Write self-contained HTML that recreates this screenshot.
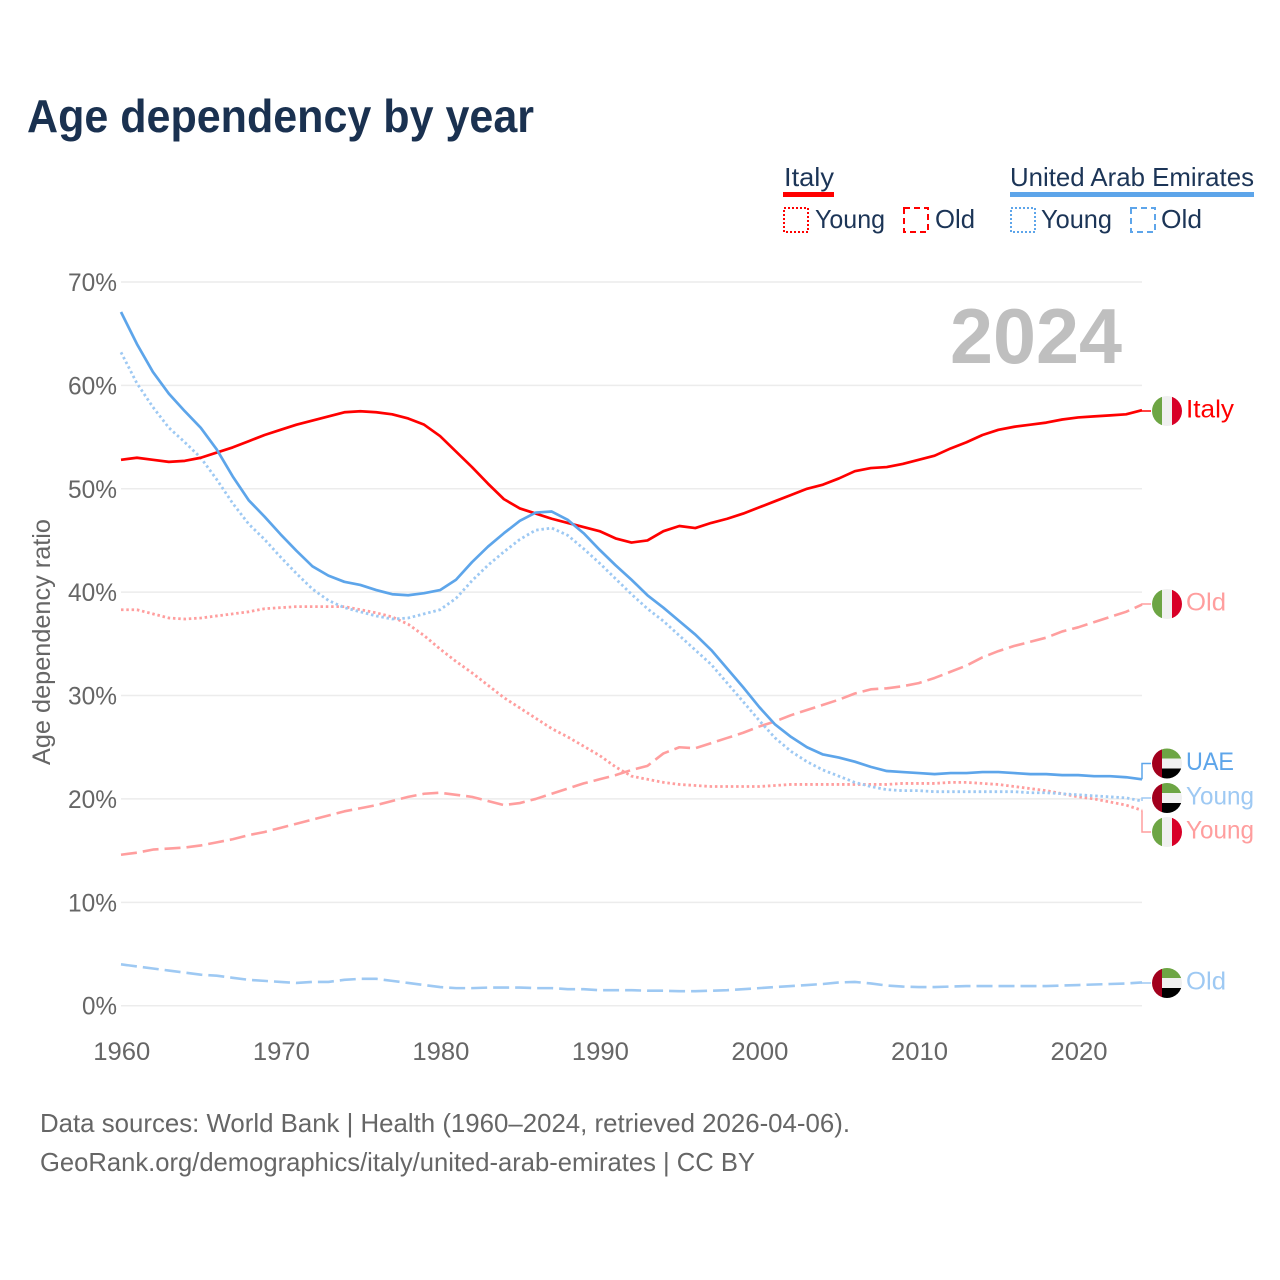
<!DOCTYPE html>
<html lang="en">
<head>
<meta charset="utf-8">
<title>Age dependency by year</title>
<style>
html,body{margin:0;padding:0;background:#fff;}
svg{display:block;font-family:"Liberation Sans",sans-serif;}
</style>
</head>
<body>
<svg id="chart" xmlns="http://www.w3.org/2000/svg" width="1280" height="1280" viewBox="0 0 1280 1280">
  <rect x="0" y="0" width="1280" height="1280" fill="#fff"/>
  <text x="27" y="132" font-size="46" font-weight="700" fill="#1a3150" textLength="507" lengthAdjust="spacingAndGlyphs">Age dependency by year</text>

  <g font-size="26" fill="#1c3557">
    <text x="784" y="186" textLength="50" lengthAdjust="spacingAndGlyphs">Italy</text>
    <rect x="783" y="192" width="51" height="5" fill="#ff0000"/>
    <rect x="784" y="208" width="24" height="24" fill="none" stroke="#ff0000" stroke-width="2" stroke-dasharray="2 2"/>
    <text x="815" y="228" textLength="70" lengthAdjust="spacingAndGlyphs">Young</text>
    <rect x="904" y="208" width="24" height="24" fill="none" stroke="#ff0000" stroke-width="2" stroke-dasharray="6 4"/>
    <text x="935" y="228" textLength="40" lengthAdjust="spacingAndGlyphs">Old</text>
    <text x="1010" y="186" textLength="244" lengthAdjust="spacingAndGlyphs">United Arab Emirates</text>
    <rect x="1010" y="192" width="244" height="5" fill="#5da5ea"/>
    <rect x="1011" y="208" width="24" height="24" fill="none" stroke="#5da5ea" stroke-width="2" stroke-dasharray="2 2"/>
    <text x="1041" y="228" textLength="71" lengthAdjust="spacingAndGlyphs">Young</text>
    <rect x="1131" y="208" width="24" height="24" fill="none" stroke="#5da5ea" stroke-width="2" stroke-dasharray="6 4"/>
    <text x="1161" y="228" textLength="41" lengthAdjust="spacingAndGlyphs">Old</text>
  </g>

  <g id="grid"></g>
  <text x="1122" y="363" text-anchor="end" font-size="78" font-weight="700" fill="#bfbfbf" textLength="172" lengthAdjust="spacingAndGlyphs">2024</text>
  <g id="yticks"></g>
  <g id="xticks"></g>
  <text transform="translate(50,642) rotate(-90)" text-anchor="middle" font-size="25" fill="#666" textLength="246" lengthAdjust="spacingAndGlyphs">Age dependency ratio</text>
  <g id="series"></g>
  <g id="labels"></g>

  <g font-size="26" fill="#666">
    <text x="40" y="1132" textLength="810" lengthAdjust="spacingAndGlyphs">Data sources: World Bank | Health (1960–2024, retrieved 2026-04-06).</text>
    <text x="40" y="1171" textLength="715" lengthAdjust="spacingAndGlyphs">GeoRank.org/demographics/italy/united-arab-emirates | CC BY</text>
  </g>
</svg>
<script>
const startYear = 1960;
const endYear = 2024;
const yTickValues = [0, 10, 20, 30, 40, 50, 60, 70];
const xTickValues = [1960, 1970, 1980, 1990, 2000, 2010, 2020];

const italyTotal = [52.8,53.0,52.8,52.6,52.7,53.0,53.5,54.0,54.6,55.2,55.7,56.2,56.6,57.0,57.4,57.5,57.4,57.2,56.8,56.2,55.1,53.6,52.1,50.5,49.0,48.1,47.6,47.1,46.7,46.3,45.9,45.2,44.8,45.0,45.9,46.4,46.2,46.7,47.1,47.6,48.2,48.8,49.4,50.0,50.4,51.0,51.7,52.0,52.1,52.4,52.8,53.2,53.9,54.5,55.2,55.7,56.0,56.2,56.4,56.7,56.9,57.0,57.1,57.2,57.6];
const italyYoung = [38.3,38.3,37.9,37.5,37.4,37.5,37.7,37.9,38.1,38.4,38.5,38.6,38.6,38.6,38.6,38.3,38.0,37.6,36.9,35.8,34.5,33.3,32.2,31.0,29.8,28.8,27.8,26.8,26.0,25.1,24.2,23.1,22.2,21.9,21.6,21.4,21.3,21.2,21.2,21.2,21.2,21.3,21.4,21.4,21.4,21.4,21.4,21.4,21.4,21.5,21.5,21.5,21.6,21.6,21.5,21.4,21.2,21.0,20.8,20.5,20.2,20.0,19.7,19.4,18.9];
const italyOld = [14.6,14.8,15.1,15.2,15.3,15.5,15.8,16.1,16.5,16.8,17.2,17.6,18.0,18.4,18.8,19.1,19.4,19.8,20.2,20.5,20.6,20.4,20.2,19.8,19.4,19.6,20.0,20.5,21.0,21.5,21.9,22.3,22.8,23.2,24.4,25.0,24.9,25.4,25.9,26.4,27.0,27.5,28.1,28.6,29.1,29.6,30.2,30.6,30.7,30.9,31.2,31.7,32.3,32.9,33.7,34.3,34.8,35.2,35.6,36.2,36.6,37.1,37.6,38.1,38.8];
const uaeTotal = [67.1,64.0,61.3,59.2,57.5,55.9,53.8,51.2,48.9,47.3,45.6,44.0,42.5,41.6,41.0,40.7,40.2,39.8,39.7,39.9,40.2,41.2,42.9,44.4,45.7,46.9,47.7,47.8,47.0,45.7,44.1,42.6,41.2,39.7,38.5,37.2,35.9,34.4,32.6,30.8,28.9,27.2,26.0,25.0,24.3,24.0,23.6,23.1,22.7,22.6,22.5,22.4,22.5,22.5,22.6,22.6,22.5,22.4,22.4,22.3,22.3,22.2,22.2,22.1,21.9];
const uaeYoung = [63.2,60.2,57.9,55.9,54.5,53.0,50.9,48.6,46.6,45.1,43.4,41.8,40.3,39.2,38.5,38.1,37.7,37.4,37.5,37.9,38.3,39.4,41.1,42.6,43.9,45.1,46.0,46.2,45.5,44.2,42.8,41.3,39.8,38.4,37.2,35.8,34.4,33.0,31.2,29.4,27.6,25.9,24.6,23.6,22.8,22.2,21.6,21.2,20.9,20.8,20.8,20.7,20.7,20.7,20.7,20.7,20.7,20.6,20.6,20.5,20.4,20.3,20.2,20.1,19.8];
const uaeOld = [4.0,3.8,3.6,3.4,3.2,3.0,2.9,2.7,2.5,2.4,2.3,2.2,2.3,2.3,2.5,2.6,2.6,2.4,2.2,2.0,1.8,1.7,1.7,1.75,1.75,1.75,1.7,1.7,1.6,1.6,1.5,1.5,1.5,1.45,1.45,1.4,1.4,1.45,1.5,1.6,1.7,1.8,1.9,2.0,2.1,2.25,2.3,2.15,1.95,1.85,1.8,1.8,1.85,1.9,1.9,1.9,1.9,1.9,1.9,1.95,2.0,2.05,2.1,2.15,2.25];

const NS = 'http://www.w3.org/2000/svg';
const plotLeft = 121, plotRight = 1142, plotTop = 282, plotBottom = 1005.7, maxPct = 70;
function xScale(year) { return plotLeft + (year - startYear) / (endYear - startYear) * (plotRight - plotLeft); }
function yScale(v) { return plotBottom - v / maxPct * (plotBottom - plotTop); }
function make(tag, attrs, parent, text) {
  const el = document.createElementNS(NS, tag);
  for (const k in attrs) el.setAttribute(k, attrs[k]);
  if (text !== undefined) el.textContent = text;
  parent.appendChild(el);
  return el;
}

const gridG = document.getElementById('grid');
const yG = document.getElementById('yticks');
yTickValues.forEach(function (v) {
  const line = make('line', {x1: plotLeft, x2: plotRight, y1: yScale(v), y2: yScale(v), stroke: '#ececec', 'stroke-width': 1.5}, gridG);
  
  
  const t = make('text', {x: 117, y: yScale(v) + 9, 'text-anchor': 'end', 'font-size': 25, fill: '#666', textLength: v === 0 ? 35 : 49, lengthAdjust: 'spacingAndGlyphs'}, yG, v + '%');
  
  
});

const xG = document.getElementById('xticks');
xTickValues.forEach(function (yr) {
  const t = make('text', {x: xScale(yr) + 0.8, y: 1060, 'text-anchor': 'middle', 'font-size': 25, fill: '#666', textLength: 57, lengthAdjust: 'spacingAndGlyphs'}, xG, String(yr));
  
  
});

const italyPale = '#ff9e9e';
const uaePale = '#9ec9f3';
const seriesG = document.getElementById('series');
const seriesList = [
  {name: 'italy-old', values: italyOld, color: italyPale, dash: '16 6', width: 2.6},
  {name: 'uae-old', values: uaeOld, color: uaePale, dash: '16 6', width: 2.6},
  {name: 'italy-young', values: italyYoung, color: italyPale, dash: '2.5 2.8', width: 2.8},
  {name: 'uae-young', values: uaeYoung, color: uaePale, dash: '2.5 2.8', width: 2.8},
  {name: 'italy-total', values: italyTotal, color: '#ff0000', dash: '', width: 2.7},
  {name: 'uae-total', values: uaeTotal, color: '#5da5ea', dash: '', width: 2.7}
];
seriesList.forEach(function (s) {
  const pts = s.values.map(function (v, i) { return xScale(startYear + i).toFixed(2) + ',' + yScale(v).toFixed(2); }).join(' ');
  const attrs = {points: pts, fill: 'none', stroke: s.color, 'stroke-width': s.width, 'stroke-linejoin': 'round'};
  if (s.dash) attrs['stroke-dasharray'] = s.dash;
  const pl = make('polyline', attrs, seriesG);
  
  
});

const labelsG = document.getElementById('labels');
function drawFlag(cx, cy, country, parent, id) {
  const clip = make('clipPath', {id: 'clip-' + id}, parent);
  make('circle', {cx: cx, cy: cy, r: 15}, clip);
  const g = make('g', {'clip-path': 'url(#clip-' + id + ')'}, parent);
  
  
  const l = cx - 15, t = cy - 15;
  if (country === 'italy') {
    make('rect', {x: l, y: t, width: 10, height: 30, fill: '#6da544'}, g);
    make('rect', {x: l + 10, y: t, width: 10, height: 30, fill: '#f0f0f0'}, g);
    make('rect', {x: l + 20, y: t, width: 10, height: 30, fill: '#d80027'}, g);
  } else {
    make('rect', {x: l + 10, y: t, width: 20, height: 10, fill: '#6da544'}, g);
    make('rect', {x: l + 10, y: t + 10, width: 20, height: 10, fill: '#f0f0f0'}, g);
    make('rect', {x: l + 10, y: t + 20, width: 20, height: 10, fill: '#000'}, g);
    make('rect', {x: l, y: t, width: 10, height: 30, fill: '#a2001d'}, g);
  }
}
const endLabels = [
  {id: 'italy-total', text: 'Italy', values: italyTotal, country: 'italy', color: '#ff0000', cy: 411, w: 48},
  {id: 'italy-old', text: 'Old', values: italyOld, country: 'italy', color: italyPale, cy: 604, w: 40},
  {id: 'uae-total', text: 'UAE', values: uaeTotal, country: 'uae', color: '#5da5ea', cy: 763.5, w: 48},
  {id: 'uae-young', text: 'Young', values: uaeYoung, country: 'uae', color: uaePale, cy: 798, w: 68},
  {id: 'italy-young', text: 'Young', values: italyYoung, country: 'italy', color: italyPale, cy: 832, w: 68},
  {id: 'uae-old', text: 'Old', values: uaeOld, country: 'uae', color: uaePale, cy: 983, w: 40}
];
endLabels.forEach(function (d) {
  const lastY = yScale(d.values[d.values.length - 1]);
  const conn = make('polyline', {points: plotRight + ',' + lastY.toFixed(2) + ' ' + plotRight + ',' + d.cy + ' 1151,' + d.cy, fill: 'none', stroke: d.color, 'stroke-width': 1.5}, labelsG);
  
  
  drawFlag(1167, d.cy, d.country, labelsG, d.id);
  const t = make('text', {x: 1186, y: d.cy + 6.5, 'font-size': 25, fill: d.color, textLength: d.w, lengthAdjust: 'spacingAndGlyphs'}, labelsG, d.text);
  
  
});
</script>
</body>
</html>
